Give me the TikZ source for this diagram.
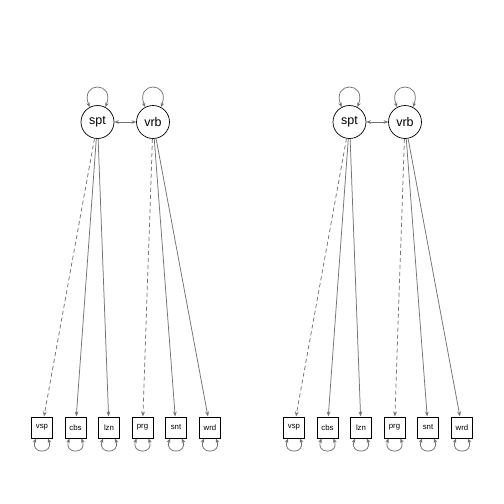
\documentclass[tikz,border=0pt]{standalone}
\usepackage{fontspec}
\setmainfont{Liberation Sans}
\usetikzlibrary{arrows.meta}
\begin{document}
\begin{tikzpicture}[x=1pt,y=-1pt,
  lat/.style={circle,draw,line width=0.7pt,minimum size=33pt,inner sep=0pt,font=\fontsize{12.5}{13}\selectfont},
  man/.style={rectangle,draw,line width=1pt,minimum size=21pt,inner sep=0pt,font=\fontsize{7.8}{8}\selectfont},
  tipst/.style={-{Stealth[length=5pt,width=3.8pt]}},
  pth/.style={draw=gray!90!black,line width=0.75pt,tipst},
  dpth/.style={pth,dashed,dash pattern=on 4pt off 3pt},
  var/.style={draw=gray!90!black,line width=0.75pt,{Stealth[length=4.5pt,width=3.6pt]}-{Stealth[length=4.5pt,width=3.6pt]}}]
\useasboundingbox (0,0) rectangle (504,504);
\fill[white] (0,0) rectangle (504,504);
\foreach \o/\p in {0/L,252/R}{
  \node[lat] (spt\p) at ({\o+97.5},122) {spt};
  \node[lat] (vrb\p) at ({\o+153},122) {vrb};
  \node[man] (vsp\p) at ({\o+42},427.5) {vsp};
  \node[man] (cbs\p) at ({\o+75.5},427.5) {cbs};
  \node[man] (lzn\p) at ({\o+109},427.5) {lzn};
  \node[man] (prg\p) at ({\o+142.5},427.5) {prg};
  \node[man] (snt\p) at ({\o+176},427.5) {snt};
  \node[man] (wrd\p) at ({\o+210},427.5) {wrd};
  \draw[dpth] (spt\p) -- (vsp\p);
  \draw[pth] (spt\p) -- (cbs\p);
  \draw[pth] (spt\p) -- (lzn\p);
  \draw[dpth] (vrb\p) -- (prg\p);
  \draw[pth] (vrb\p) -- (snt\p);
  \draw[pth] (vrb\p) -- (wrd\p);
  \draw[var] (spt\p) -- (vrb\p);
  \foreach \n in {spt,vrb}{
    \draw[var] (\n\p.118) .. controls +(-10,-26) and +(10,-26) .. (\n\p.62);
  }
  \foreach \n in {vsp,cbs,lzn,prg,snt,wrd}{
    \coordinate (\n\p a) at ([xshift=-6pt]\n\p.south);
    \coordinate (\n\p b) at ([xshift=6pt]\n\p.south);
    \draw[var] (\n\p a) .. controls +(-6,16) and +(6,16) .. (\n\p b);
  }
}
\end{tikzpicture}
\end{document}
